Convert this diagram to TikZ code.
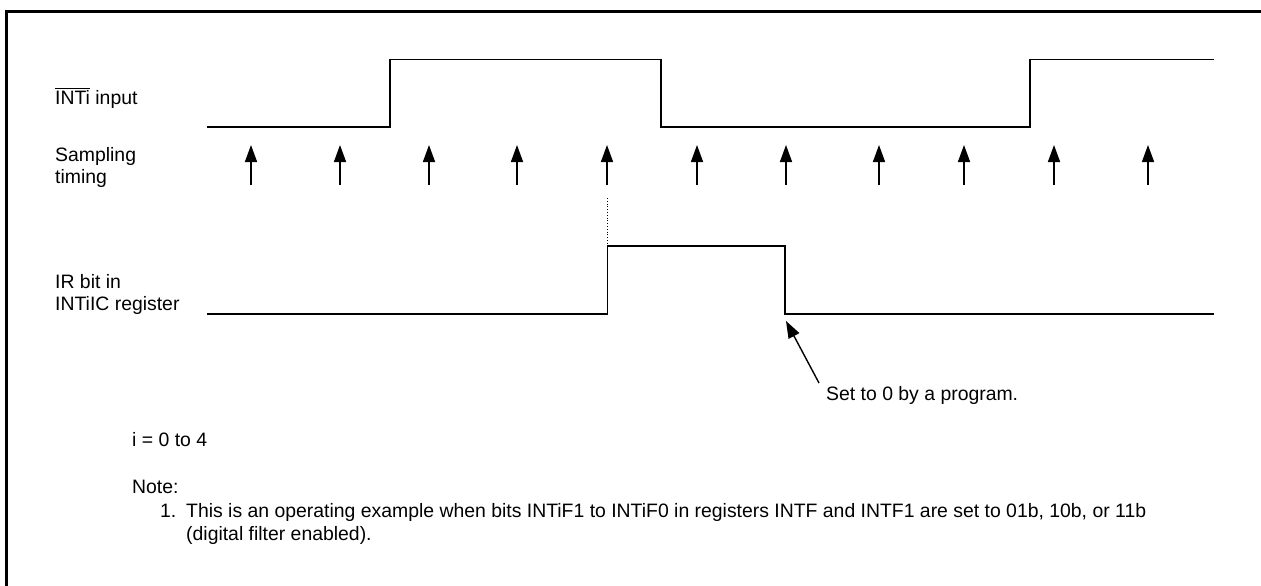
\documentclass[tikz,border=0pt]{standalone}
\usepackage{fontspec}
\setmainfont{Liberation Sans}
\usetikzlibrary{arrows.meta}
\begin{document}
\begin{tikzpicture}[x=1pt,y=-1pt,
  lbl/.style={anchor=base west,inner sep=0pt,font=\fontsize{19.4}{22}\selectfont,align=left},
  sig/.style={line width=1.6pt,line join=miter},
  samp/.style={line width=1.6pt,-{Triangle[length=17pt,width=12pt]}},
  ptr/.style={line width=1.4pt,-{Triangle[length=17pt,width=12pt]}}]
\clip (0,0) rectangle (1261,586);
\fill[white] (0,0) rectangle (1261,586);
\draw[line width=3pt] (6.5,11.5) rectangle (1300,650);
% labels
\node[lbl] (lint) at (55,104) {$\overline{\hbox{INTi}}$ input};
\node[lbl,anchor=north west] (lsamp) at (55,147) {Sampling\\timing};
\node[lbl,anchor=north west] (lir) at (55,274) {IR bit in\\INTiIC register};
\node[lbl] (ieq) at (132,446) {i = 0 to 4};
\node[lbl] (note) at (132,493) {Note:};
\node[lbl] (n1) at (160,517) {1.};
\node[lbl] (n1t) at (186,517) {This is an operating example when bits INTiF1 to INTiF0 in registers INTF and INTF1 are set to 01b, 10b, or 11b};
\node[lbl] (n1u) at (186,540) {(digital filter enabled).};
\node[lbl] (set) at (826,400) {Set to 0 by a program.};
% INTi waveform
\draw[sig] (207,127) -- (390,127) -- (390,59.5) -- (661,59.5) -- (661,127) -- (1030,127) -- (1030,59.5) -- (1214,59.5);
% sampling arrows
\foreach \x in {251,340,429,517,607,697,786,879,964,1054,1148}
  \draw[samp] (\x,185) -- (\x,145);
% IR waveform
\draw[sig] (207,314) -- (607.5,314) -- (607.5,246) -- (785,246) -- (785,314) -- (1214,314);
\draw[line width=0.8pt,dotted] (607.5,198) -- (607.5,246);
% pointer
\coordinate (fall) at (786,321);
\draw[ptr] (819,383) -- (fall);
\end{tikzpicture}
\end{document}
